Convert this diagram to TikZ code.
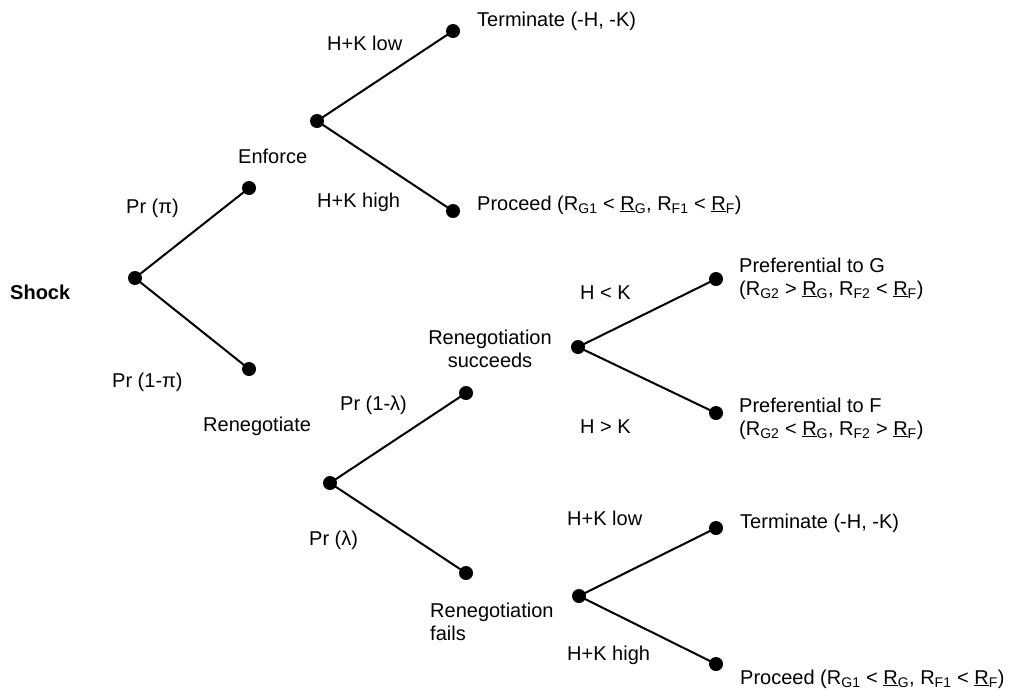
\documentclass[tikz,border=0pt]{standalone}
\usepackage{fontspec}
\setmainfont{Liberation Sans}
\begin{document}
\begin{tikzpicture}[x=1pt,y=-1pt,
  dot/.style={circle,fill=black,inner sep=0pt,minimum size=14pt},
  branch/.style={line width=2pt},
  lbl/.style={anchor=west,inner sep=0pt,font=\fontsize{20}{23}\selectfont},
  lblc/.style={inner sep=0pt,font=\fontsize{20}{23}\selectfont}]
\useasboundingbox (0,0) rectangle (1024,691);
% dots
\node[dot] (root) at (135,278) {};
\node[dot] (e1) at (249,188) {};
\node[dot] (r1) at (249,369) {};
\node[dot] (enf) at (317,121) {};
\node[dot] (tA) at (453,31) {};
\node[dot] (pA) at (453,211) {};
\node[dot] (ren) at (330,483) {};
\node[dot] (s1) at (466,393) {};
\node[dot] (f1) at (466,573) {};
\node[dot] (succ) at (578,347) {};
\node[dot] (pg) at (716,279) {};
\node[dot] (pf) at (716,413) {};
\node[dot] (fail) at (579,596) {};
\node[dot] (tB) at (716,528) {};
\node[dot] (pB) at (716,664) {};
% branches
\draw[branch] (root.center) -- (e1.center);
\draw[branch] (root.center) -- (r1.center);
\draw[branch] (enf.center) -- (tA.center);
\draw[branch] (enf.center) -- (pA.center);
\draw[branch] (ren.center) -- (s1.center);
\draw[branch] (ren.center) -- (f1.center);
\draw[branch] (succ.center) -- (pg.center);
\draw[branch] (succ.center) -- (pf.center);
\draw[branch] (fail.center) -- (tB.center);
\draw[branch] (fail.center) -- (pB.center);
% labels
\node[lbl,font=\fontsize{20}{23}\selectfont\bfseries] (shock) at (10,292) {Shock};
\node[lbl] (ppi) at (126,208) {Pr (π)};
\node[lbl] (p1pi) at (112,382) {Pr (1-π)};
\node[lbl] (enfl) at (238,156) {Enforce};
\node[lbl] (renl) at (203,426) {Renegotiate};
\node[lbl] (hkl1) at (327,43) {H+K low};
\node[lbl] (hkh1) at (317,202) {H+K high};
\node[lbl] (term1) at (477,21) {Terminate (-H, -K)};
\node[lbl] (proc1) at (477,205) {Proceed (R\textsubscript{G1} < \underline{R}\textsubscript{G}, R\textsubscript{F1} < \underline{R}\textsubscript{F})};
\node[lblc,align=center] (succl) at (490,348.5) {Renegotiation\\succeeds};
\node[lbl,align=left] (faill) at (430,621.5) {Renegotiation\\fails};
\node[lbl] (plam1) at (340,405) {Pr (1-λ)};
\node[lbl] (plam) at (309,540) {Pr (λ)};
\node[lbl] (hltk) at (580,293) {H < K};
\node[lbl] (hgtk) at (580,427) {H > K};
\node[lbl,align=left] (prefg) at (739,278.5) {Preferential to G\\(R\textsubscript{G2} > \underline{R}\textsubscript{G}, R\textsubscript{F2} < \underline{R}\textsubscript{F})};
\node[lbl,align=left] (preff) at (739,418.5) {Preferential to F\\(R\textsubscript{G2} < \underline{R}\textsubscript{G}, R\textsubscript{F2} > \underline{R}\textsubscript{F})};
\node[lbl] (hkl2) at (567,518) {H+K low};
\node[lbl] (hkh2) at (567,655) {H+K high};
\node[lbl] (term2) at (740,523) {Terminate (-H, -K)};
\node[lbl] (proc2) at (740,679) {Proceed (R\textsubscript{G1} < \underline{R}\textsubscript{G}, R\textsubscript{F1} < \underline{R}\textsubscript{F})};
\end{tikzpicture}
\end{document}
